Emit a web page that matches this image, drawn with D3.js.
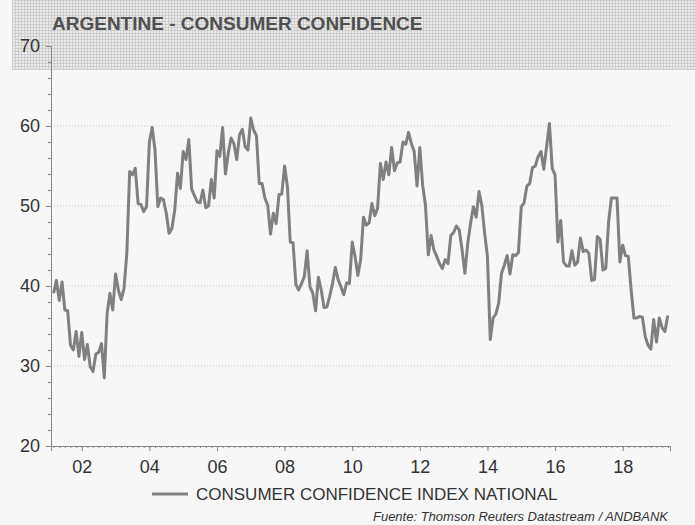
<!DOCTYPE html>
<html lang="es">
<head>
<meta charset="utf-8">
<style>
html, body {
    margin: 0;
    padding: 0;
    background: #f7f7f7;
}

svg {
    display: block;
    font-family: "Liberation Sans", Arial, sans-serif;
}

.tick text {
    fill: #333;
}

</style>
</head>
<body>
<div id="stage"></div>

<script src="https://cdn.jsdelivr.net/npm/d3@7/dist/d3.min.js"></script>
<script>

var title = "ARGENTINE - CONSUMER CONFIDENCE";
var seriesName = "CONSUMER CONFIDENCE INDEX NATIONAL";
var source = "Fuente: Thomson Reuters Datastream / ANDBANK";

// monthly, first value is March 2001
var startYear = 2001;
var startMonth = 2;
var confidence = [
    39.1, 40.7, 38.2, 40.5, 37.0, 36.9, 32.6, 32.0, 34.3, 31.2,
    34.2, 30.8, 32.7, 29.9, 29.3, 31.5, 31.7, 32.8, 28.5, 36.6, 39.1, 37.0,
    41.5, 39.5, 38.3, 39.7, 44.1, 54.3, 53.9, 54.7, 50.3, 50.2, 49.3, 49.9,
    58.0, 59.8, 57.0, 49.9, 51.0, 50.8, 49.1, 46.6, 47.2, 49.5, 54.1, 52.2,
    56.8, 55.8, 58.3, 52.1, 51.3, 50.5, 50.4, 52.0, 49.8, 50.0, 53.3, 51.0,
    56.9, 56.2, 59.8, 54.0, 56.6, 58.5, 57.8, 55.8, 58.9, 59.6, 57.4, 57.0,
    61.0, 59.5, 58.8, 52.8, 52.8, 51.0, 50.1, 46.5, 49.1, 47.8, 51.4, 51.5,
    55.0, 52.4, 45.5, 45.4, 40.2, 39.5, 40.3, 41.2, 44.4, 39.9, 39.1, 36.9,
    41.1, 39.5, 37.3, 37.4, 38.7, 40.3, 42.3, 40.8, 39.9, 38.9, 40.4, 40.3,
    45.5, 43.7, 41.3, 43.3, 48.6, 47.6, 47.9, 50.3, 48.8, 49.7, 55.3, 53.3,
    55.5, 53.9, 57.3, 54.4, 55.4, 55.5, 58.0, 57.7, 59.2, 57.8, 56.8, 52.5,
    57.3, 52.6, 50.1, 43.9, 46.3, 44.5, 43.7, 42.8, 42.2, 43.3, 42.8, 46.3,
    46.7, 47.5, 47.0, 44.5, 41.6, 45.3, 47.8, 49.9, 48.6, 51.8, 50.1, 46.6,
    43.7, 33.3, 36.0, 36.5, 37.9, 41.6, 42.6, 43.8, 41.5, 43.9, 43.8, 44.2,
    49.9, 50.4, 52.5, 52.8, 54.8, 55.0, 56.2, 56.8, 54.6, 57.4, 60.3, 54.7,
    53.9, 45.5, 48.2, 43.0, 42.5, 42.5, 44.4, 42.6, 43.0, 46.0, 44.3, 44.5,
    44.1, 40.7, 40.8, 46.2, 45.8, 42.0, 42.2, 48.0, 51.0, 51.0, 51.0, 43.0,
    45.1, 43.8, 43.7, 39.5, 36.0, 36.0, 36.2, 36.1, 33.7, 32.6, 32.1, 35.8,
    33.0, 36.0, 34.8, 34.3, 36.3
];

var yTicks = [20, 30, 40, 50, 60, 70];
var yGrid = [30, 40, 50, 60];
var xTickYears = [2002, 2004, 2006, 2008, 2010, 2012, 2014, 2016, 2018];
var xTickLabels = ["02", "04", "06", "08", "10", "12", "14", "16", "18"];

var width = 695, height = 525;

var data = confidence.map(function (v, i) {
    return { t: startYear + (startMonth + i) / 12, value: v };
});

var svg = d3.select("#stage")
    .append("svg")
    .attr("width", width)
    .attr("height", height);

// hatched header band
var pat = svg.append("defs").append("pattern")
    .attr("id", "mesh")
    .attr("width", 3)
    .attr("height", 3)
    .attr("patternUnits", "userSpaceOnUse");
pat.append("rect").attr("width", 3).attr("height", 3).attr("fill", "#ebebeb");
pat.append("rect").attr("width", 3).attr("height", 1).attr("fill", "#cdcdcd");
pat.append("rect").attr("width", 1).attr("height", 3).attr("fill", "#cdcdcd");

svg.append("rect")
    .attr("x", 12)
    .attr("width", width - 12)
    .attr("height", 70)
    .attr("fill", "url(#mesh)");

svg.append("text")
    .attr("x", 52)
    .attr("y", 30)
    .attr("font-size", 19)
    .attr("font-weight", "bold")
    .attr("fill", "#505050")
    .text(title);

var x = d3.scaleLinear()
    .domain([2001.09, 2019.40])
    .range([51, 670]);

var y = d3.scaleLinear()
    .domain([20, 70])
    .range([446, 46]);

// grid
svg.append("g")
    .selectAll("line")
    .data(yGrid)
    .enter()
    .append("line")
    .attr("x1", x.range()[0])
    .attr("x2", x.range()[1])
    .attr("y1", function (d) { return y(d); })
    .attr("y2", function (d) { return y(d); })
    .attr("stroke", "#c8c8c8")
    .attr("stroke-dasharray", "1,2");

// minor ticks
svg.append("g")
    .attr("transform", "translate(51,0)")
    .call(d3.axisLeft(y).tickValues(d3.range(20, 71, 2)).tickSize(3).tickFormat(""))
    .call(function (g) { g.select(".domain").remove(); })
    .selectAll("line").attr("stroke", "#888");

svg.append("g")
    .attr("transform", "translate(0,446)")
    .call(d3.axisBottom(x).tickValues(d3.range(2001 + 2 / 12, 2019.4, 1 / 6)).tickSize(2).tickFormat(""))
    .call(function (g) { g.select(".domain").remove(); })
    .selectAll("line").attr("stroke", "#888");

var yAxis = svg.append("g")
    .attr("transform", "translate(51,0)")
    .call(d3.axisLeft(y).tickValues(yTicks).tickSize(5).tickPadding(6).tickFormat(d3.format("d")));

var xAxis = svg.append("g")
    .attr("transform", "translate(0,446)")
    .call(d3.axisBottom(x).tickValues(xTickYears).tickSize(5).tickPadding(9)
        .tickFormat(function (d, i) { return xTickLabels[i]; }));

[yAxis, xAxis].forEach(function (g) {
    g.attr("font-family", null).attr("font-size", 18);
    g.select(".domain").attr("stroke", "#888");
    g.selectAll(".tick line").attr("stroke", "#888");
});

var line = d3.line()
    .x(function (d) { return x(d.t); })
    .y(function (d) { return y(d.value); });

svg.append("path")
    .datum(data)
    .attr("d", line)
    .attr("fill", "none")
    .attr("stroke", "#808080")
    .attr("stroke-width", 3)
    .attr("stroke-linejoin", "round");

// legend
svg.append("line")
    .attr("x1", 152)
    .attr("x2", 188)
    .attr("y1", 494)
    .attr("y2", 494)
    .attr("stroke", "#808080")
    .attr("stroke-width", 3);

svg.append("text")
    .attr("x", 196)
    .attr("y", 500)
    .attr("font-size", 17)
    .attr("fill", "#333")
    .text(seriesName);

svg.append("text")
    .attr("x", 668)
    .attr("y", 521)
    .attr("text-anchor", "end")
    .attr("font-size", 13)
    .attr("font-style", "italic")
    .attr("fill", "#333")
    .text(source);

</script>

</body>
</html>
